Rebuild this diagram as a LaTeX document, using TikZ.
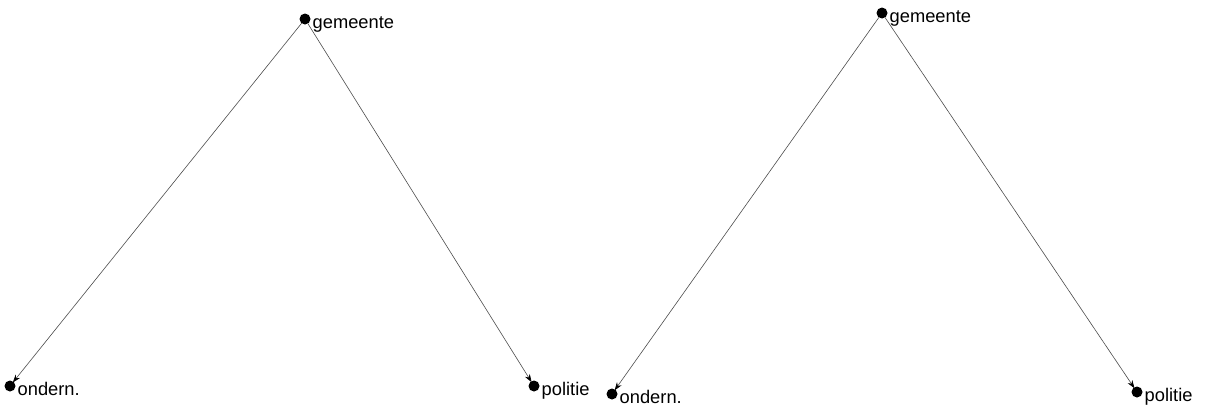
\documentclass[tikz,border=0pt]{standalone}
\usepackage{fontspec}
\setmainfont{Liberation Sans}
\usetikzlibrary{arrows.meta}
\begin{document}
\begin{tikzpicture}[
            x=1pt,
            y=-1pt,
            actor dot/.style={circle, fill=black, draw=none, minimum size=11pt, inner sep=0pt, outer sep=0pt},
            actor label/.style={anchor=base west, inner sep=0pt, font=\fontsize{18.3}{21}\selectfont},
            tie/.style={draw=black!70, line width=0.6pt, -{Stealth[length=8pt, width=5.5pt, black]}, shorten >=-1pt}
        ]
        \useasboundingbox (0,0) rectangle (1212,408);
        \foreach \i/\gx/\gy/\ox/\oy/\px/\py in {
                1/305/19/10/386/534/386,
                2/882/13/612/394/1137/392
            } {
                \node[actor dot] (g\i) at (\gx,\gy) {};
                \node[actor dot] (o\i) at (\ox,\oy) {};
                \node[actor dot] (p\i) at (\px,\py) {};
                \node[actor label] (gl\i) at ([xshift=2pt, yshift=-9pt]g\i.east) {gemeente};
                \node[actor label] (ol\i) at ([xshift=2pt, yshift=-9pt]o\i.east) {ondern.};
                \node[actor label] (pl\i) at ([xshift=2pt, yshift=-9pt]p\i.east) {politie};
                \draw[tie] (g\i) -- (o\i);
                \draw[tie] (g\i) -- (p\i);
            }
    \end{tikzpicture}
\end{document}
